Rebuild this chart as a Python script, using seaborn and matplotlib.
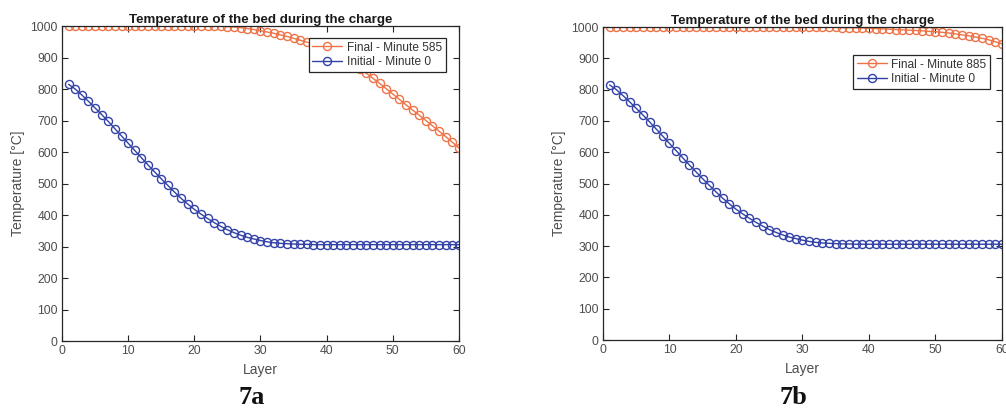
import numpy as np
import pandas as pd
import matplotlib
matplotlib.use("Agg")
import matplotlib.pyplot as plt
import seaborn as sns

# layers of the bed
layers = list(range(1, 61))

# initial profile, minute 0 (same in both panels)
initial_min0 = [815, 800, 781, 761, 740, 719, 697, 674, 651, 628,
                605, 582, 559, 537, 515, 494, 473, 453, 435, 418,
                403, 389, 376, 364, 353, 344, 336, 329, 324, 319,
                315, 312, 310, 309, 308, 307, 307, 306, 306, 306,
                306, 306, 306, 306, 306, 306, 306, 306, 306, 306,
                306, 306, 306, 306, 306, 306, 306, 306, 306, 306]

# final profile, minute 585 (7a)
final_min585 = [1000, 1000, 1000, 1000, 1000, 1000, 1000, 1000, 1000, 1000,
                1000, 1000, 1000, 1000, 1000, 1000, 1000, 1000, 1000, 1000,
                1000, 1000, 999, 999, 998, 997, 995, 992, 989, 985,
                981, 977, 972, 967, 961, 955, 949, 943, 935, 926,
                916, 905, 892, 879, 865, 850, 834, 818, 801, 784,
                767, 750, 733, 717, 700, 683, 666, 649, 631, 613]

# final profile, minute 885 (7b)
final_min885 = [1000, 1000, 1000, 1000, 1000, 1000, 1000, 1000, 1000, 1000,
                1000, 1000, 1000, 1000, 1000, 1000, 1000, 1000, 1000, 1000,
                1000, 1000, 1000, 1000, 1000, 1000, 1000, 1000, 1000, 1000,
                999, 999, 999, 999, 999, 998, 998, 998, 997, 996,
                995, 994, 993, 992, 991, 990, 989, 988, 986, 985,
                983, 981, 978, 975, 972, 968, 964, 959, 953, 946]

panels = [
    {"final": final_min585, "label": "Final - Minute 585", "tag": "7a",
     "rect": [0.0616, 0.1703, 0.3946, 0.7664], "leg": (0.967, 0.962)},
    {"final": final_min885, "label": "Final - Minute 885", "tag": "7b",
     "rect": [0.5994, 0.1727, 0.3966, 0.7616], "leg": (0.970, 0.9105)},
]

orange = "#EE7448"
blue = "#3242A6"
axcol = "#262626"
tickcol = "#4D4D4D"

sns.set_style("white")
plt.rcParams["font.family"] = ["Liberation Sans", "DejaVu Sans"]

fig = plt.figure(figsize=(10.06, 4.11), dpi=100)

for p in panels:
    ax = fig.add_axes(p["rect"])
    df = pd.DataFrame({"Layer": layers, "final": p["final"], "initial": initial_min0})

    sns.lineplot(data=df, x="Layer", y="final", ax=ax, color=orange, lw=1,
                 marker="o", markersize=5.8, markerfacecolor="none",
                 markeredgecolor=orange, markeredgewidth=1, label=p["label"])
    sns.lineplot(data=df, x="Layer", y="initial", ax=ax, color=blue, lw=1,
                 marker="o", markersize=5.8, markerfacecolor="none",
                 markeredgecolor=blue, markeredgewidth=1, label="Initial - Minute 0")

    ax.set_xlim(0, 60)
    ax.set_ylim(0, 1000)
    ax.set_xticks(range(0, 61, 10))
    ax.set_yticks(range(0, 1001, 100))
    ax.tick_params(direction="in", length=4, width=0.8, colors=axcol,
                   labelcolor=tickcol, labelsize=8.8, top=True, right=True,
                   bottom=True, left=True, pad=3)
    for s in ax.spines.values():
        s.set_visible(True)
        s.set_color(axcol)
        s.set_linewidth(0.9)

    ax.set_xlabel("Layer", fontsize=10, color=tickcol, labelpad=4)
    ax.set_ylabel("Temperature [°C]", fontsize=10, color=tickcol, labelpad=4)
    ax.set_title("Temperature of the bed during the charge", fontsize=9.6,
                 fontweight="bold", color="#1A1A1A", pad=2)

    leg = ax.legend(loc="upper right", bbox_to_anchor=p["leg"], fontsize=8.6,
                    frameon=True, fancybox=False, framealpha=1,
                    edgecolor=axcol, handlelength=2.5, borderpad=0.3,
                    labelspacing=0.2, handletextpad=0.4, borderaxespad=0)
    leg.get_frame().set_linewidth(0.9)
    for t in leg.get_texts():
        t.set_color("#333333")

    r = p["rect"]
    fig.text(r[0] + r[2] / 2 - 0.009, 0.032, p["tag"], ha="center", va="center",
             fontsize=19, fontweight="bold", family="Liberation Serif",
             color="#111111")

fig.savefig("out.png", dpi=100)
